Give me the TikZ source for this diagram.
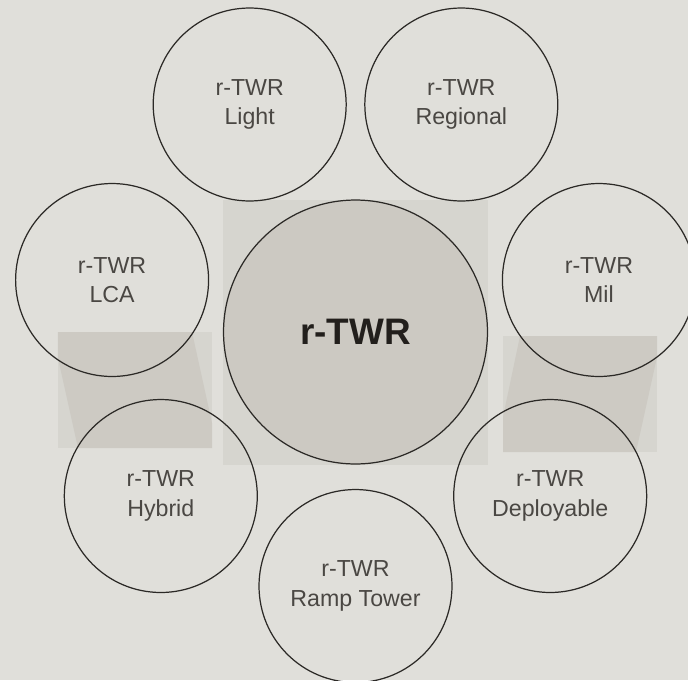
\documentclass[tikz,border=0pt]{standalone}
\usepackage{fontspec}
\setmainfont{Liberation Sans}
\usepackage{xcolor}
\usepackage{tikz}

\definecolor{paper}{HTML}{E0DFDA}
\definecolor{panel}{HTML}{D6D5CF}
\definecolor{band}{HTML}{CDCAC3}
\definecolor{hubfill}{HTML}{CCC9C2}
\definecolor{ink}{HTML}{2B2926}
\definecolor{label}{HTML}{4A4743}
\definecolor{hubtext}{HTML}{221F1C}

\begin{document}
\begin{tikzpicture}[
        x=0.02cm,
        y=0.02cm,
        variant/.style={circle, draw=ink, line width=0.7pt, minimum size=3.86cm,
            inner sep=0pt, align=center, text=label,
            font=\fontsize{13.2}{16.9}\selectfont},
        hub/.style={circle, draw=ink, fill=hubfill, line width=0.7pt,
            minimum size=5.28cm, inner sep=0pt, text=hubtext,
            font=\fontsize{21}{25}\selectfont\bfseries}
    ]
        \fill[paper] (-355.5,-348) rectangle (332.5,332);
        \useasboundingbox (-355.5,-348) rectangle (332.5,332);

        \fill[panel] (-132.5,-133) rectangle (132.5,132);
        \fill[panel] (-297.5,-116) rectangle (-143.5,0);
        \fill[band] (-297.5,0) -- (-163.5,0) -- (-143.5,-91) -- (-143.5,-116)
            -- (-277.5,-116) -- (-297.5,-26) -- cycle;
        \fill[panel] (147.5,-120) rectangle (301.5,-4);
        \fill[band] (164.5,-4) -- (301.5,-4) -- (301.5,-25) -- (280.5,-120)
            -- (147.5,-120) -- (147.5,-85) -- cycle;

        \node[hub] (twr) at (0,0) {r-TWR};

        \foreach \nm/\px/\py/\txt in {
            light/-105.8/227.5/Light,
            regional/105.8/227.5/Regional,
            lca/-243.4/52/LCA,
            mil/243.4/52/Mil,
            hybrid/-194.7/-164/Hybrid,
            deployable/194.7/-164/Deployable,
            ramp/0/-254/Ramp Tower}
            \node[variant] (\nm) at (\px,\py) {r-TWR\\\txt};
    \end{tikzpicture}
\end{document}
